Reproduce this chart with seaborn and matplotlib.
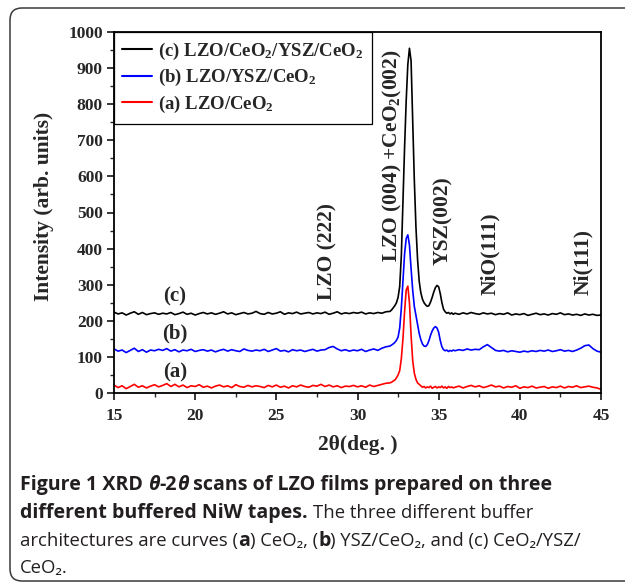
import numpy as np
import pandas as pd
import matplotlib
matplotlib.use("Agg")
import matplotlib.pyplot as plt
import seaborn as sns
from matplotlib.patches import FancyBboxPatch
from matplotlib.ticker import MultipleLocator

# ---------------- data ----------------
seg_low = 15 + np.arange(68) * 0.25          # 15 .. 31.75
seg_mid = np.round(32 + np.arange(40) * 0.1, 2)  # 32 .. 35.9
seg_high = 36 + np.arange(37) * 0.25          # 36 .. 45
two_theta = np.concatenate([seg_low, seg_mid, seg_high])

red_low = [22, 15, 20, 12, 18, 24, 16, 20, 14, 19, 23, 17,
           21, 26, 18, 24, 17, 22, 15, 20, 18, 23, 16, 19,
           14, 19, 22, 17, 20, 15, 23, 18, 16, 21, 17, 20,
           18, 15, 21, 17, 22, 16, 19, 14, 20, 17, 22, 18,
           16, 21, 19, 24, 18, 22, 17, 20, 15, 19, 18, 21,
           17, 20, 16, 22, 18, 21, 24, 27]
red_mid = [28, 30, 33, 36, 42, 50, 62, 95, 150, 225,
           285, 296, 250, 160, 90, 55, 38, 28, 24, 20,
           16, 18, 14, 17, 15, 19, 13, 16, 18, 14,
           17, 15, 19, 14, 17, 13, 18, 15, 17, 14]
red_high = [16, 19, 14, 18, 21, 17, 20, 15, 18, 22, 17, 19,
            14, 18, 16, 20, 13, 17, 15, 19, 14, 16, 18, 13,
            17, 15, 19, 14, 18, 16, 20, 15, 17, 19, 16, 14, 10]

blue_low = [122, 116, 119, 112, 118, 124, 115, 120, 113, 119, 117, 121,
            118, 123, 116, 120, 114, 119, 117, 121, 115, 118, 120, 116,
            119, 114, 118, 121, 116, 120, 117, 115, 122, 118, 116, 119,
            117, 121, 115, 119, 123, 116, 118, 114, 120, 117, 119, 115,
            118, 121, 116, 119, 120, 126, 129, 122, 117, 120, 116, 119,
            117, 121, 115, 119, 122, 118, 124, 128]
blue_mid = [130, 133, 136, 140, 146, 155, 180, 235, 310, 385,
            428, 438, 410, 345, 285, 240, 215, 190, 165, 148,
            136, 130, 129, 134, 145, 160, 172, 180, 184, 180,
            168, 145, 128, 120, 117, 119, 115, 118, 116, 119]
blue_high = [117, 120, 118, 122, 119, 121, 120, 128, 134, 126, 118, 116,
             118, 114, 117, 115, 113, 116, 114, 117, 115, 118, 116, 119,
             115, 117, 120, 116, 118, 115, 119, 124, 131, 133, 123, 116, 113]

black_low = [224, 219, 222, 216, 221, 225, 218, 223, 217, 220, 222, 218,
             221, 219, 223, 217, 220, 224, 218, 221, 216, 220, 223, 219,
             222, 218, 221, 225, 219, 222, 217, 220, 223, 219, 221, 226,
             220, 218, 223, 219, 221, 225, 218, 222, 220, 224, 219, 221,
             223, 219, 222, 220, 224, 218, 221, 225, 219, 222, 220, 223,
             221, 224, 219, 222, 220, 223, 221, 225]
black_mid = [226, 230, 236, 242, 250, 265, 295, 380, 530, 680,
             810, 910, 955, 920, 760, 590, 460, 370, 310, 278,
             260, 250, 244, 240, 242, 252, 265, 280, 292, 298,
             294, 275, 250, 232, 225, 221, 223, 219, 222, 218]
black_high = [221, 218, 222, 219, 223, 220, 218, 222, 219, 221, 217, 220,
              218, 222, 216, 219, 217, 220, 215, 218, 221, 217, 219, 216,
              220, 218, 222, 217, 219, 216, 218, 215, 219, 216, 218, 215, 216]

series_labels = ["(c) LZO/CeO$_2$/YSZ/CeO$_2$", "(b) LZO/YSZ/CeO$_2$", "(a) LZO/CeO$_2$"]
series_colors = ["#000000", "#0000ff", "#ff0000"]
curve_tags = ["(c)", "(b)", "(a)"]
curve_tag_y = [266, 166, 58]
peak_labels = ["LZO (222)", "LZO (004) +CeO$_2$(002)", "YSZ(002)", "NiO(111)", "Ni(111)"]
peak_x = [28.18, 32.13, 35.27, 38.16, 43.89]
peak_y = [258, 363, 355, 271, 271]

x_ticks = [15, 20, 25, 30, 35, 40, 45]
y_ticks = [0, 100, 200, 300, 400, 500, 600, 700, 800, 900, 1000]

# ---------------- dataframe ----------------
intens = {
    series_labels[0]: black_low + black_mid + black_high,
    series_labels[1]: blue_low + blue_mid + blue_high,
    series_labels[2]: red_low + red_mid + red_high,
}
frames = []
for lab in series_labels:
    frames.append(pd.DataFrame({"two_theta": two_theta, "intensity": intens[lab], "sample": lab}))
df = pd.concat(frames, ignore_index=True)

# ---------------- style ----------------
sns.set_style("ticks")
SERIF = ["Liberation Serif", "DejaVu Serif"]
plt.rcParams["font.family"] = SERIF
plt.rcParams["font.weight"] = "bold"
plt.rcParams["mathtext.fontset"] = "custom"
plt.rcParams["mathtext.rm"] = "Liberation Serif:bold"
plt.rcParams["mathtext.it"] = "Liberation Serif:italic:bold"
plt.rcParams["mathtext.bf"] = "Liberation Serif:bold"

W, H = 625, 583
fig = plt.figure(figsize=(W / 100, H / 100), dpi=100)
fig.patch.set_facecolor("white")
ax = fig.add_axes([114 / W, 1 - 393 / H, 487 / W, 361 / H])

sns.lineplot(data=df, x="two_theta", y="intensity", hue="sample",
             hue_order=series_labels, palette=series_colors, linewidth=1.2,
             ax=ax, estimator=None, sort=True)

ax.set_xlim(15, 45)
ax.set_ylim(0, 1000)
ax.set_xticks(x_ticks)
ax.set_yticks(y_ticks)
ax.xaxis.set_minor_locator(MultipleLocator(2.5))
ax.yaxis.set_minor_locator(MultipleLocator(50))
ax.tick_params(axis="both", which="major", length=5, width=1.1, labelsize=12.5,
               top=False, right=False, color="black")
ax.tick_params(axis="both", which="minor", length=3, width=1.0, top=False, right=False)
ax.tick_params(axis="x", which="major", pad=6)
ax.tick_params(axis="y", which="major", pad=3)
for lab in ax.get_xticklabels() + ax.get_yticklabels():
    lab.set_fontweight("bold")
for sp in ax.spines.values():
    sp.set_linewidth(1.3)
    sp.set_color("black")

ax.set_xlabel("2θ(deg. )", fontsize=15.5, fontweight="bold")
ax.xaxis.set_label_coords(0.5, -0.158)
ax.xaxis.label.set_va("baseline")
ax.set_ylabel("Intensity (arb. units)", fontsize=15.5, fontweight="bold")
ax.yaxis.set_label_coords(-0.144, 0.518)
ax.yaxis.label.set_va("center")

handles, labels = ax.get_legend_handles_labels()
leg = ax.legend(handles, labels, loc="upper left", bbox_to_anchor=(0, 1),
                borderaxespad=0, frameon=True, fancybox=False, edgecolor="black",
                framealpha=1, handlelength=1.6, handletextpad=0.3, borderpad=0.45,
                labelspacing=0.3, prop={"family": SERIF, "weight": "bold", "size": 13.5})
leg.get_frame().set_linewidth(0.9)
for h in leg.get_lines():
    h.set_linewidth(1.5)

for tag, yv in zip(curve_tags, curve_tag_y):
    ax.text(18.76, yv, tag, fontsize=15, fontweight="bold", ha="center", va="center")
for txt, xv, yv in zip(peak_labels, peak_x, peak_y):
    ax.text(xv, yv, txt, fontsize=15.5, fontweight="bold", rotation=90,
            ha="center", va="bottom")

# ---------------- outer rounded frame ----------------
box = FancyBboxPatch((10, H - 581), 640, 573, boxstyle="round,pad=0,rounding_size=12",
                     transform=None, facecolor="none", edgecolor="#3a3a3a",
                     linewidth=1.1, clip_on=False)
fig.patches.append(box)

# ---------------- caption ----------------
CAP_FONT = ["Open Sans", "Noto Sans", "DejaVu Sans"]
CAP_COLOR = "#231f20"
renderer = fig.canvas.get_renderer()


def advance(text, fs, weight, style):
    kw = dict(fontsize=fs, fontweight=weight, fontstyle=style, family=CAP_FONT)
    a = fig.text(0, 0, text + "l", **kw)
    b = fig.text(0, 0, "l", **kw)
    w = a.get_window_extent(renderer).width - b.get_window_extent(renderer).width
    a.remove()
    b.remove()
    return w


def draw_line(y_base, runs, bsize, rsize, x0=20):
    x = x0
    made = []
    for text, weight, style in runs:
        fs = bsize if weight == "bold" else rsize
        t = fig.text(x / W, 1 - y_base / H, text, fontsize=fs, fontweight=weight,
                     fontstyle=style, family=CAP_FONT, color=CAP_COLOR,
                     ha="left", va="baseline")
        made.append(t)
        x += advance(text, fs, weight, style)
    return made, x


B, N = "bold", "normal"
line1 = [("Figure 1 XRD ", B, N), ("θ", B, "italic"), ("-2", B, N),
         ("θ", B, "italic"), (" scans of LZO films prepared on three", B, N)]
line2 = [("different buffered NiW tapes. ", B, N), ("The three different buffer", N, N)]
line3 = [("architectures are curves (", N, N), ("a", B, N), (") CeO₂, (", N, N),
         ("b", B, N), (") YSZ/CeO₂, and (c) CeO₂/YSZ/", N, N)]
line4 = [("CeO₂.", N, N)]

trial, xend = draw_line(490, line1, 13, 13)
for t in trial:
    t.remove()
bold_size = 13 * (548 - 20) / (xend - 20)
trial, xend = draw_line(546, line3, bold_size, 13)
for t in trial:
    t.remove()
reg_size = 13 * (578 - 20) / (xend - 20)

draw_line(490, line1, bold_size, reg_size)
draw_line(518, line2, bold_size, reg_size)
draw_line(546, line3, bold_size, reg_size)
draw_line(573, line4, bold_size, reg_size)

fig.savefig("out.png", dpi=100, facecolor="white")
